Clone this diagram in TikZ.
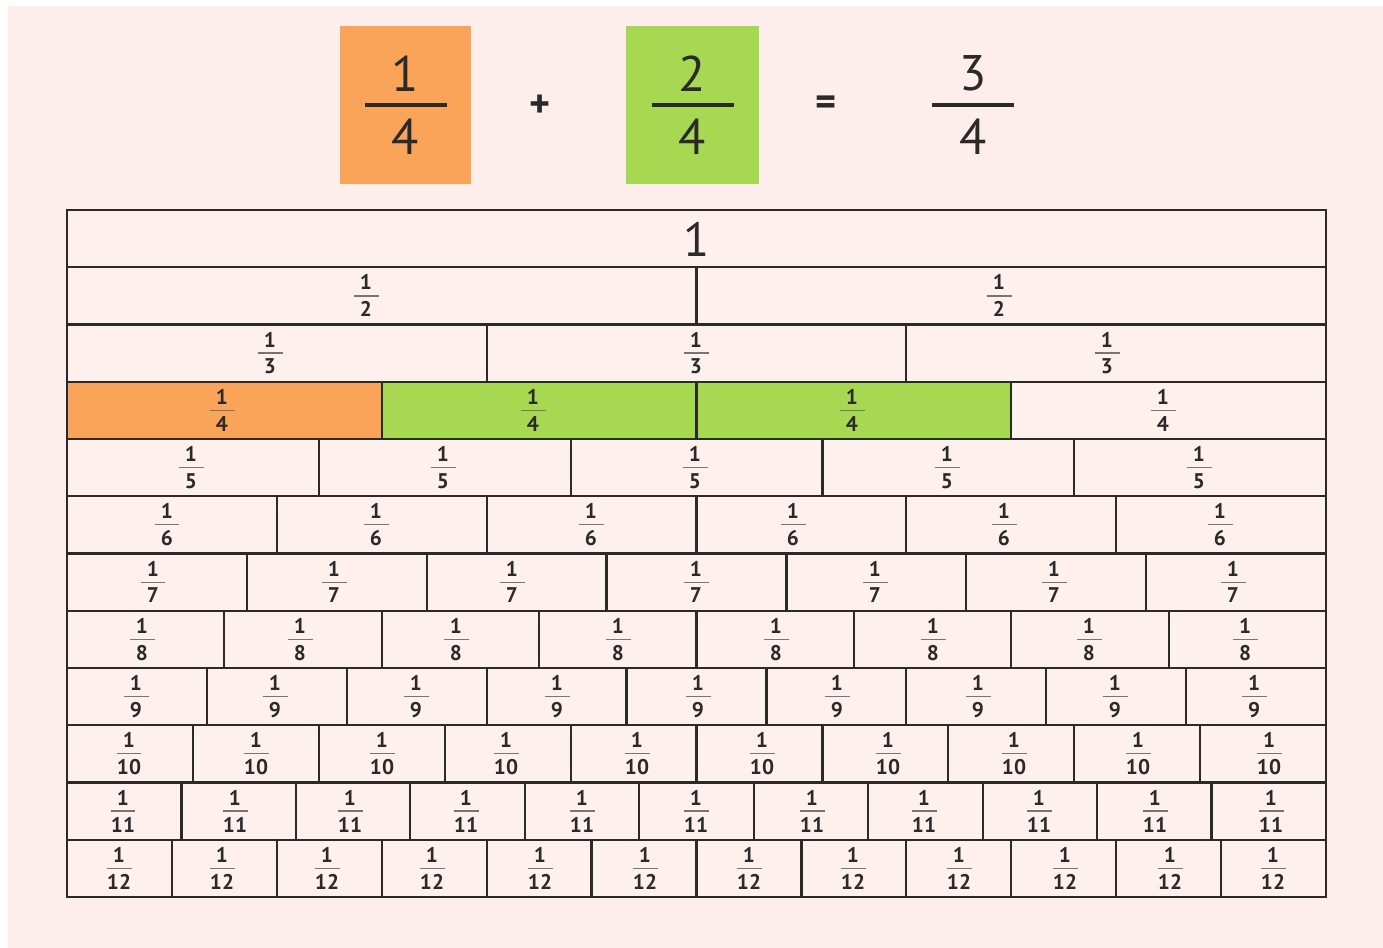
\documentclass[tikz,border=0pt]{standalone}
\usepackage{fontspec}
\setmainfont{PT Sans}
\definecolor{bgpink}{HTML}{FDEEEB}
\definecolor{cellpink}{HTML}{FDF0ED}
\definecolor{fo}{HTML}{F9A459}
\definecolor{fg}{HTML}{A7D851}
\definecolor{ink}{HTML}{2A2A2A}
\newcommand\myfr[6]{\vbox{\offinterlineskip\hbox to #3{\hss#1\hss}\kern#5\hbox{\color{#6}\rule{#3}{#4}}\kern#5\hbox to #3{\hss#2\hss}}}
\newcommand\smallfr[2]{{\fontsize{10.6}{12}\selectfont\bfseries\myfr{#1}{#2}{12.5pt}{0.7pt}{2.6pt}{ink!65}}}
\newcommand\bigfr[2]{{\fontsize{25}{30}\selectfont\myfr{#1}{#2}{41pt}{2pt}{6pt}{ink}}}
\tikzset{
  cellbox/.style={draw=ink, line width=1.1pt, inner sep=0pt},
  lab/.style={inner sep=0pt, text=ink},
  topbox/.style={inner sep=0pt, minimum width=65.5pt, minimum height=79pt, text=ink},
  sign/.style={text=ink, font=\fontsize{20}{24}\selectfont\bfseries}
}
\newcommand\labrow[2]{%
  \foreach \lx [count=\k] in {#2}{%
    \pgfmathsetmacro\cy{210+(#1-0.5)*57.25}%
    \node[lab] (l-#1-\k) at (\lx,\cy) {\smallfr{1}{#1}};
  }}
\begin{document}
\begin{tikzpicture}[x=0.5pt,y=-0.5pt]
\useasboundingbox (0,0) rectangle (1383,948);
\fill[white] (0,0) rectangle (1383,948);
\fill[bgpink] (8,6) rectangle (1383,948);
% equation
\node[topbox, fill=fo] (qa) at (405.5,105) {\bigfr{1}{4}};
\node[sign] (plus) at (540,106) {+};
\node[topbox, fill=fg, minimum width=66.5pt] (qb) at (692.5,105) {\bigfr{2}{4}};
\node[sign] (eq) at (826,106) {=};
\node[topbox] (qc) at (973,105) {\bigfr{3}{4}};
% fraction wall cells
\foreach \r in {1,...,12}{
  \pgfmathsetmacro\w{1259/\r}
  \pgfmathsetmacro\wpt{\w*0.5}
  \foreach \k in {1,...,\r}{
    \def\cellfill{cellpink}
    \ifnum\r=4
      \ifnum\k=1 \def\cellfill{fo}\fi
      \ifnum\k=2 \def\cellfill{fg}\fi
      \ifnum\k=3 \def\cellfill{fg}\fi
    \fi
    \pgfmathsetmacro\cx{67+(\k-0.5)*\w}
    \pgfmathsetmacro\cy{210+(\r-0.5)*57.25}
    \node[cellbox, fill=\cellfill, minimum width=\wpt pt, minimum height=28.625pt] (c-\r-\k) at (\cx,\cy) {};
  }
}
% labels
\node[lab, font=\fontsize{24}{28}\selectfont] (l-1-1) at (696.5,239) {1};
\labrow{2}{366,999}
\labrow{3}{270,696,1107}
\labrow{4}{222,533,852,1163}
\labrow{5}{191,443,695,947,1199}
\labrow{6}{167,376,591,793,1004,1220}
\labrow{7}{153,334,512,696,875,1054,1233}
\labrow{8}{142,300,456,618,776,933,1089,1245}
\labrow{9}{136,275,416,557,698,837,978,1115,1254}
\labrow{10}{129,256,382,506,637,762,888,1014,1138,1269}
\labrow{11}{123,235,350,466,582,696,812,924,1039,1155,1271}
\labrow{12}{119,222,327,432,540,645,749,853,959,1065,1170,1273}
\end{tikzpicture}
\end{document}
